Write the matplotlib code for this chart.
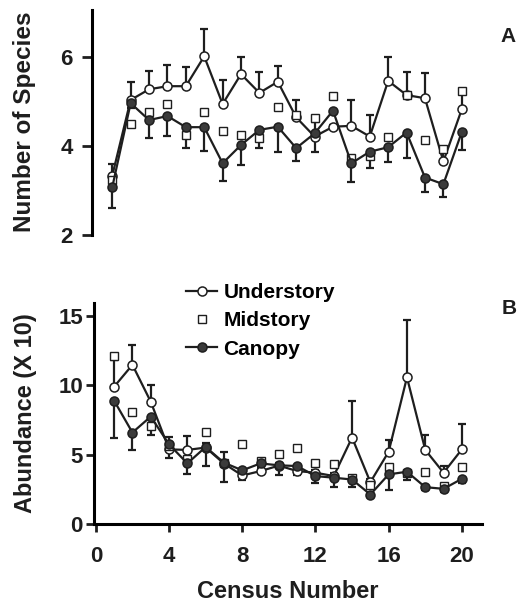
import numpy as np
import matplotlib
matplotlib.use("Agg")
import matplotlib.pyplot as plt

plt.rcParams['font.family'] = ['Liberation Sans', 'DejaVu Sans']
plt.rcParams['font.weight'] = 'bold'

census = np.arange(1, 21)

# panel A - number of species
under_a = [3.33, 5.03, 5.27, 5.34, 5.34, 6.01, 4.94, 5.61, 5.19, 5.44,
           4.64, 4.21, 4.43, 4.45, 4.21, 5.46, 5.14, 5.07, 3.65, 4.82]
under_a_se = [0.27, 0.41, 0.41, 0.47, 0.44, 0.62, 0.55, 0.39, 0.47, 0.35,
              0.40, 0.33, 0.05, 0.58, 0.48, 0.54, 0.51, 0.57, 0.30, 0.35]
mid_a = [3.24, 4.49, 4.77, 4.94, 4.25, 4.77, 4.34, 4.25, 4.17, 4.87,
         4.69, 4.62, 5.13, 3.72, 3.78, 4.21, 5.14, 4.13, 3.93, 5.24]
canopy_a = [3.07, 4.96, 4.58, 4.67, 4.42, 4.42, 3.61, 4.02, 4.36, 4.43,
            3.95, 4.28, 4.79, 3.61, 3.87, 3.97, 4.30, 3.29, 3.14, 4.31]
canopy_a_se = [0.47, 0.10, 0.41, 0.45, 0.47, 0.53, 0.39, 0.46, 0.41, 0.56,
               0.30, 0.41, 0.05, 0.41, 0.36, 0.34, 0.58, 0.33, 0.29, 0.40]

# panel B - abundance (x 10)
under_b = [9.88, 11.45, 8.80, 5.37, 5.33, 5.50, 4.35, 3.49, 3.81, 4.20,
           3.81, 3.69, 3.45, 6.22, 3.01, 5.20, 10.55, 5.33, 3.69, 5.37]
under_b_se = [1.90, 1.45, 1.20, 0.92, 1.00, 0.30, 0.83, 0.20, 0.20, 0.20,
              0.20, 0.20, 0.20, 2.65, 0.20, 0.82, 4.10, 1.06, 0.48, 1.81]
mid_b = [12.12, 8.07, 7.06, 5.60, 4.65, 6.63, 4.40, 5.73, 4.53, 5.01,
         5.45, 4.41, 4.29, 3.30, 2.77, 4.12, 3.69, 3.76, 2.72, 4.12]
canopy_b = [8.87, 6.58, 7.73, 5.73, 4.36, 5.54, 4.41, 3.86, 4.36, 4.22,
            4.17, 3.45, 3.33, 3.20, 2.12, 3.57, 3.76, 2.65, 2.53, 3.25]
canopy_b_se = [2.65, 1.25, 1.34, 0.96, 0.75, 1.37, 1.40, 0.66, 0.20, 0.73,
               0.68, 0.53, 0.66, 0.55, 0.20, 1.09, 0.60, 0.20, 0.23, 0.33]

INK = '#1e1e1e'
DARK = '#3a3a3a'

W, H = 517, 605
fig = plt.figure(figsize=(W / 100, H / 100), dpi=100)
ax_a = fig.add_axes([92 / W, 1 - 235 / H, 390 / W, 225 / H])
ax_b = fig.add_axes([94 / W, 1 - 524 / H, 388 / W, 221 / H])


def draw(ax, under, under_se, mid, canopy, canopy_se):
    zero = np.zeros(len(census))
    ax.errorbar(census, under, yerr=[zero, under_se], fmt='none', ecolor=INK,
                elinewidth=1.6, capsize=3, capthick=1.6, zorder=1)
    ax.errorbar(census, canopy, yerr=[canopy_se, zero], fmt='none', ecolor=INK,
                elinewidth=1.6, capsize=3, capthick=1.6, zorder=1)
    l1, = ax.plot(census, under, '-o', color=INK, lw=1.6, ms=6.5,
                  mfc='white', mec=INK, mew=1.1, zorder=2)
    l2, = ax.plot(census, mid, 's', ls='none', ms=5.5, mfc='white',
                  mec=INK, mew=1.0, zorder=3)
    l3, = ax.plot(census, canopy, '-o', color=INK, lw=1.6, ms=6.5,
                  mfc=DARK, mec=INK, mew=1.1, zorder=4)
    return l1, l2, l3


draw(ax_a, under_a, under_a_se, mid_a, canopy_a, canopy_a_se)
handles = draw(ax_b, under_b, under_b_se, mid_b, canopy_b, canopy_b_se)

# panel A styling
ax_a.set_xlim(-0.1, 21.1)
ax_a.set_ylim(2, 7.05)
ax_a.set_yticks([2, 4, 6])
for s in ['top', 'right', 'bottom']:
    ax_a.spines[s].set_visible(False)
ax_a.spines['left'].set_linewidth(2.2)
ax_a.xaxis.set_visible(False)
ax_a.tick_params(axis='y', direction='out', length=7, width=2, pad=7,
                 labelsize=16, colors=INK)

# panel B styling
ax_b.set_xlim(-0.1, 21.1)
ax_b.set_ylim(0, 15.9)
ax_b.set_yticks([0, 5, 10, 15])
ax_b.set_xticks([0, 4, 8, 12, 16, 20])
for s in ['top', 'right']:
    ax_b.spines[s].set_visible(False)
for s in ['left', 'bottom']:
    ax_b.spines[s].set_linewidth(2.2)
ax_b.tick_params(axis='y', direction='out', length=6, width=2, pad=2,
                 labelsize=16, colors=INK)
ax_b.tick_params(axis='x', direction='out', length=6, width=2, pad=10,
                 labelsize=16, colors=INK)

ax_b.legend(handles, ['Understory', 'Midstory', 'Canopy'], loc='upper left',
            bbox_to_anchor=(186 / W, 1 - 283 / H), bbox_transform=fig.transFigure,
            frameon=False, fontsize=15, handlelength=1.5, handletextpad=0.3,
            labelspacing=0.45, borderpad=0, borderaxespad=0)

# labels
fig.text(25 / W, 1 - 122 / H, 'Number of Species', rotation=90, ha='center',
         va='center', fontsize=17.5, color=INK)
fig.text(26 / W, 1 - 413 / H, 'Abundance (X 10)', rotation=90, ha='center',
         va='center', fontsize=17, color=INK)
fig.text(288 / W, 1 - 591 / H, 'Census Number', ha='center', va='center',
         fontsize=17, color=INK)
fig.text(508 / W, 1 - 37 / H, 'A', ha='center', va='center', fontsize=15,
         color=INK)
fig.text(509 / W, 1 - 309 / H, 'B', ha='center', va='center', fontsize=15,
         color=INK)

fig.savefig('out.png', dpi=100)
